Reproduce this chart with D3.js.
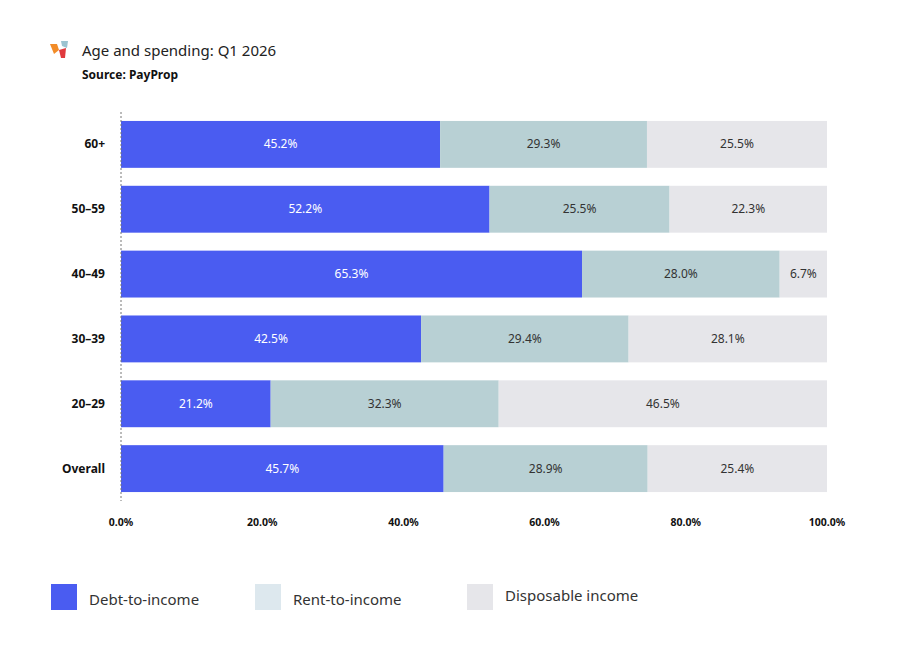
<!DOCTYPE html>
<html><head><meta charset="utf-8">
<script src="https://cdn.jsdelivr.net/npm/d3@7"></script>
<style>body{margin:0;background:#fff;font-family:"Noto Sans",sans-serif;}</style>
</head><body><svg id="chart" width="901" height="660"></svg>
<script>
const categories = ["60+", "50–59", "40–49", "30–39", "20–29", "Overall"];
const debt = [45.2, 52.2, 65.3, 42.5, 21.2, 45.7];
const rent = [29.3, 25.5, 28.0, 29.4, 32.3, 28.9];
const disposable = [25.5, 22.3, 6.7, 28.1, 46.5, 25.4];
const seriesNames = ["Debt-to-income", "Rent-to-income", "Disposable income"];
const ticks = [0, 20, 40, 60, 80, 100];

const colors = ["#4a5cf1", "#b8d0d4", "#e6e6ea"];
const legendColors = ["#4a5cf1", "#dde8ee", "#e6e6ea"];
const textColors = ["#fff", "#333", "#333"];

const svg = d3.select("#chart");
const rows = categories.map((c, i) => ({ c, vals: [debt[i], rent[i], disposable[i]] }));

const x = d3.scaleLinear().domain([0, 100]).range([121, 827]);
const y = d3.scaleBand().domain(categories).range([112, 501]).paddingInner(0.277).paddingOuter(0.138);

// logo
const logo = svg.append("g").attr("transform", "translate(50,41)");
logo.append("path").attr("d", "M0,3 L7,3 L9,9 L4,13 Z").attr("fill", "#f28c28");
logo.append("path").attr("d", "M9,9 L16,7 L15,17 L11,17 Z").attr("fill", "#e03a3e");
logo.append("path").attr("d", "M11,0 L18,0 L17,7 L12,5 Z").attr("fill", "#9cc3d0");

svg.append("text").attr("x", 82).attr("y", 56).attr("font-size", 15).attr("fill", "#222").text("Age and spending: Q1 2026");
svg.append("text").attr("x", 82).attr("y", 79).attr("font-size", 12).attr("font-weight", "bold").attr("fill", "#111").text("Source: PayProp");

const g = svg.append("g");
rows.forEach(r => {
  let acc = 0;
  r.vals.forEach((v, k) => {
    const x0 = x(acc), x1 = x(Math.min(acc + v, 100));
    g.append("rect").attr("x", x0).attr("y", y(r.c)).attr("width", x1 - x0).attr("height", y.bandwidth()).attr("fill", colors[k]);
    g.append("text").attr("x", (x0 + x1) / 2).attr("y", y(r.c) + y.bandwidth() / 2 + 4)
      .attr("text-anchor", "middle").attr("font-size", 12).attr("fill", textColors[k]).text(v.toFixed(1) + "%");
    acc += v;
  });
});

// category labels
svg.append("g").selectAll("text").data(categories).join("text")
  .attr("x", 105).attr("y", d => y(d) + y.bandwidth() / 2 + 4)
  .attr("text-anchor", "end").attr("font-size", 12).attr("font-weight", "bold").attr("fill", "#111").text(d => d);

// dashed baseline
svg.append("line").attr("x1", x(0)).attr("x2", x(0)).attr("y1", 112).attr("y2", 501)
  .attr("stroke", "#777").attr("stroke-dasharray", "2,2");

// x ticks
svg.append("g").selectAll("text").data(ticks).join("text")
  .attr("x", d => x(d)).attr("y", 526).attr("text-anchor", "middle")
  .attr("font-size", 10.5).attr("font-weight", "bold").attr("fill", "#111").text(d => d.toFixed(1) + "%");

// legend
const lx = [51, 255, 467];
seriesNames.forEach((n, k) => {
  svg.append("rect").attr("x", lx[k]).attr("y", 584).attr("width", 26).attr("height", 26).attr("fill", legendColors[k]);
  svg.append("text").attr("x", lx[k] + 38).attr("y", k === 2 ? 601 : 605).attr("font-size", 15).attr("fill", "#333").text(n);
});
</script></body></html>
